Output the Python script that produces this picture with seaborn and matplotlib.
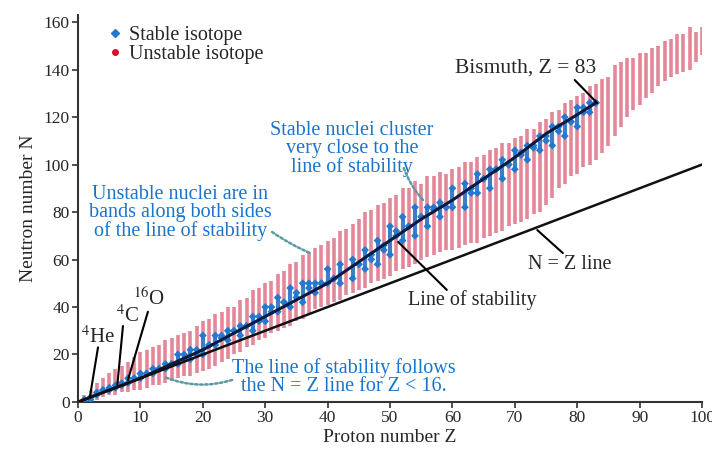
import numpy as np
import pandas as pd
import matplotlib
matplotlib.use("Agg")
import matplotlib.pyplot as plt
from matplotlib.lines import Line2D
import seaborn as sns

# ------------------------------------------------------------
# 1. Data
# ------------------------------------------------------------
# unstable isotope bands: lowest and highest N for each Z
band_z = list(range(1, 101))
band_low = [0, 1, 1, 2, 3, 3, 4, 4, 5, 5,
            6, 7, 7, 8, 9, 10, 11, 11, 12, 13,
            14, 15, 17, 18, 20, 21, 23, 24, 26, 27,
            29, 30, 31, 32, 34, 35, 37, 39, 40, 41,
            42, 43, 45, 46, 47, 48, 50, 51, 52, 53,
            55, 56, 57, 58, 60, 61, 62, 63, 64, 64,
            65, 66, 67, 67, 69, 70, 71, 72, 74, 75,
            76, 77, 79, 80, 83, 86, 90, 92, 95, 96,
            99, 100, 102, 105, 108, 112, 116, 120, 123, 125,
            128, 130, 133, 135, 137, 138, 139, 140, 143, 146]
band_high = [3, 5, 8, 10, 12, 14, 15, 17, 19, 21,
             22, 23, 24, 26, 27, 28, 29, 30, 32, 34,
             35, 37, 38, 40, 40, 43, 44, 47, 48, 50,
             51, 54, 55, 58, 59, 62, 63, 65, 66, 68,
             69, 72, 73, 75, 77, 80, 81, 83, 84, 86,
             87, 90, 90, 93, 92, 95, 95, 97, 96, 98,
             99, 101, 101, 103, 104, 106, 107, 109, 109, 111,
             112, 115, 115, 118, 119, 122, 123, 126, 127, 129,
             130, 133, 134, 136, 137, 142, 143, 145, 145, 147,
             147, 149, 150, 152, 153, 155, 155, 158, 156, 158]

# stable isotopes: lowest and highest stable N for each Z (no Tc, Pm)
stable_z = [1, 2, 3, 4, 5, 6, 7, 8, 9, 10,
            11, 12, 13, 14, 15, 16, 17, 18, 19, 20,
            21, 22, 23, 24, 25, 26, 27, 28, 29, 30,
            31, 32, 33, 34, 35, 36, 37, 38, 39, 40,
            41, 42, 44, 45, 46, 47, 48, 49, 50, 51,
            52, 53, 54, 55, 56, 57, 58, 59, 60, 62,
            63, 64, 65, 66, 67, 68, 69, 70, 71, 72,
            73, 74, 75, 76, 77, 78, 79, 80, 81, 82, 83]
stable_low = [0, 1, 3, 5, 5, 6, 7, 8, 10, 10,
              12, 12, 14, 14, 16, 16, 18, 18, 20, 20,
              24, 24, 27, 26, 30, 28, 32, 30, 34, 34,
              38, 38, 42, 40, 44, 42, 48, 46, 50, 50,
              52, 50, 52, 58, 56, 60, 58, 64, 62, 70,
              68, 74, 70, 78, 74, 81, 78, 82, 82, 82,
              88, 88, 94, 90, 98, 94, 100, 98, 104, 102,
              107, 106, 110, 108, 114, 112, 118, 116, 122, 122, 126]
stable_high = [1, 2, 4, 5, 6, 7, 8, 10, 10, 12,
               12, 14, 14, 16, 16, 20, 20, 22, 22, 28,
               24, 28, 28, 30, 30, 32, 32, 36, 36, 40,
               40, 44, 42, 48, 46, 50, 50, 50, 50, 56,
               52, 58, 60, 58, 64, 62, 68, 66, 74, 72,
               78, 74, 82, 78, 82, 82, 84, 82, 90, 92,
               90, 96, 94, 98, 98, 102, 100, 106, 105, 108,
               108, 112, 112, 116, 116, 120, 118, 124, 124, 126, 126]

# line of stability
stab_z = [0, 5, 10, 15, 20, 25, 30, 35, 40, 45, 50, 55, 60, 65, 70, 75, 80, 83]
stab_n = [0, 5, 10, 16, 22, 29, 36, 43, 50, 59, 68, 77, 85, 94, 103, 113, 121, 126]

# N = Z line
nz_z = [0, 100]
nz_n = [0, 100]

x_ticks = list(range(0, 101, 10))
y_ticks = list(range(0, 161, 20))

RED = "#de6a80"
BLUE = "#2479cf"
TXT_BLUE = "#1a74cc"
DOTS = "#5a9aa0"
FS = 14.5

# ------------------------------------------------------------
# 2. Figure
# ------------------------------------------------------------
sns.set_theme(style="ticks")
plt.rcParams["font.family"] = ["Liberation Serif", "DejaVu Serif"]
plt.rcParams["mathtext.fontset"] = "stix"

fig = plt.figure(figsize=(7.12, 4.5), dpi=100)
ax = fig.add_axes([0.1096, 0.1067, 0.8764, 0.8601])

# unstable bands
ax.vlines(band_z, band_low, band_high, color=RED, linewidth=2.6, alpha=0.8, zorder=2)

# stable isotopes
ax.vlines(stable_z, stable_low, stable_high, color=BLUE, linewidth=3.0, alpha=0.85, zorder=3)
stable_df = pd.DataFrame({"Z": stable_z * 2, "N": stable_low + stable_high})
sns.scatterplot(data=stable_df, x="Z", y="N", marker="D", s=16, color=BLUE,
                edgecolor="none", ax=ax, zorder=3, legend=False)

# lines
lines_df = pd.DataFrame({"Z": stab_z, "N": stab_n})
sns.lineplot(data=lines_df, x="Z", y="N", color="#0a1a40", linewidth=2.2,
             ax=ax, zorder=4, sort=True)
nz_df = pd.DataFrame({"Z": nz_z, "N": nz_n})
sns.lineplot(data=nz_df, x="Z", y="N", color="#111111", linewidth=1.8, ax=ax, zorder=4)

ax.set_xlim(0, 100)
ax.set_ylim(0, 163)
ax.set_xticks(x_ticks)
ax.set_yticks(y_ticks)
ax.tick_params(axis="both", direction="out", length=4, width=1.2, color="#333333",
               labelsize=12.5, pad=2)
for side in ["left", "bottom"]:
    ax.spines[side].set_linewidth(1.5)
    ax.spines[side].set_color("#333333")
sns.despine(ax=ax)
ax.set_xlabel("Proton number Z", fontsize=14, labelpad=2)
ax.set_ylabel("Neutron number N", fontsize=14, labelpad=5)

# legend
handles = [
    Line2D([], [], linestyle="none", marker="D", markersize=4, color=BLUE),
    Line2D([], [], linestyle="none", marker="o", markersize=4, color="#d9102a"),
]
ax.legend(handles, ["Stable isotope", "Unstable isotope"], loc="upper left",
          bbox_to_anchor=(0.030, 0.992), frameon=False, fontsize=FS,
          handletextpad=0.2, handlelength=1.0, labelspacing=0.0, borderaxespad=0)

# ------------------------------------------------------------
# 3. Annotations (text + leader line drawn separately)
# ------------------------------------------------------------
def leader(start, end, dotted=False, rad=0.0):
    if dotted:
        props = dict(arrowstyle="-", color=DOTS, lw=1.8, linestyle=(0, (1, 1)),
                     shrinkA=0, shrinkB=0, connectionstyle=f"arc3,rad={rad}")
    else:
        props = dict(arrowstyle="-", color="black", lw=1.5, shrinkA=0, shrinkB=0)
    ax.annotate("", xy=end, xytext=start, arrowprops=props, zorder=5)


ax.text(71.8, 140.6, "Bismuth, Z = 83", fontsize=15.5, ha="center", va="center")
leader((79.6, 135.6), (83.2, 125.9))

ax.text(43.9, 106.5, "Stable nuclei cluster\nvery close to the\nline of stability",
        fontsize=FS, color=TXT_BLUE, ha="center", va="center", linespacing=0.92)
leader((52.2, 98.5), (55.3, 85.0), dotted=True, rad=0.1)

ax.text(16.4, 79.5, "Unstable nuclei are in\nbands along both sides\nof the line of stability",
        fontsize=FS, color=TXT_BLUE, ha="center", va="center", linespacing=0.92)
leader((31.1, 71.6), (37.2, 62.7), dotted=True, rad=0.05)

ax.text(63.1, 43.0, "Line of stability", fontsize=FS, ha="center", va="center")
leader((59.1, 47.2), (51.3, 67.4))

ax.text(78.8, 57.7, "N = Z line", fontsize=FS, ha="center", va="center")
leader((73.6, 72.4), (77.7, 62.7))

ax.text(42.6, 10.5, "The line of stability follows\nthe N = Z line for Z < 16.",
        fontsize=FS, color=TXT_BLUE, ha="center", va="center", linespacing=0.92)
leader((24.7, 9.3), (13.9, 10.5), dotted=True, rad=-0.18)

# light nuclei labels
ax.text(3.2, 27.5, r"$^{4}$He", fontsize=15, ha="center", va="center")
leader((3.2, 23.0), (1.9, 2.1))
ax.text(7.9, 36.0, r"$^{4}$C", fontsize=15, ha="center", va="center")
leader((7.2, 32.0), (6.3, 7.2))
ax.text(11.3, 43.5, r"$^{16}$O", fontsize=15, ha="center", va="center")
leader((11.2, 38.0), (8.0, 9.3))

fig.savefig("out.png", dpi=100)
plt.close(fig)
